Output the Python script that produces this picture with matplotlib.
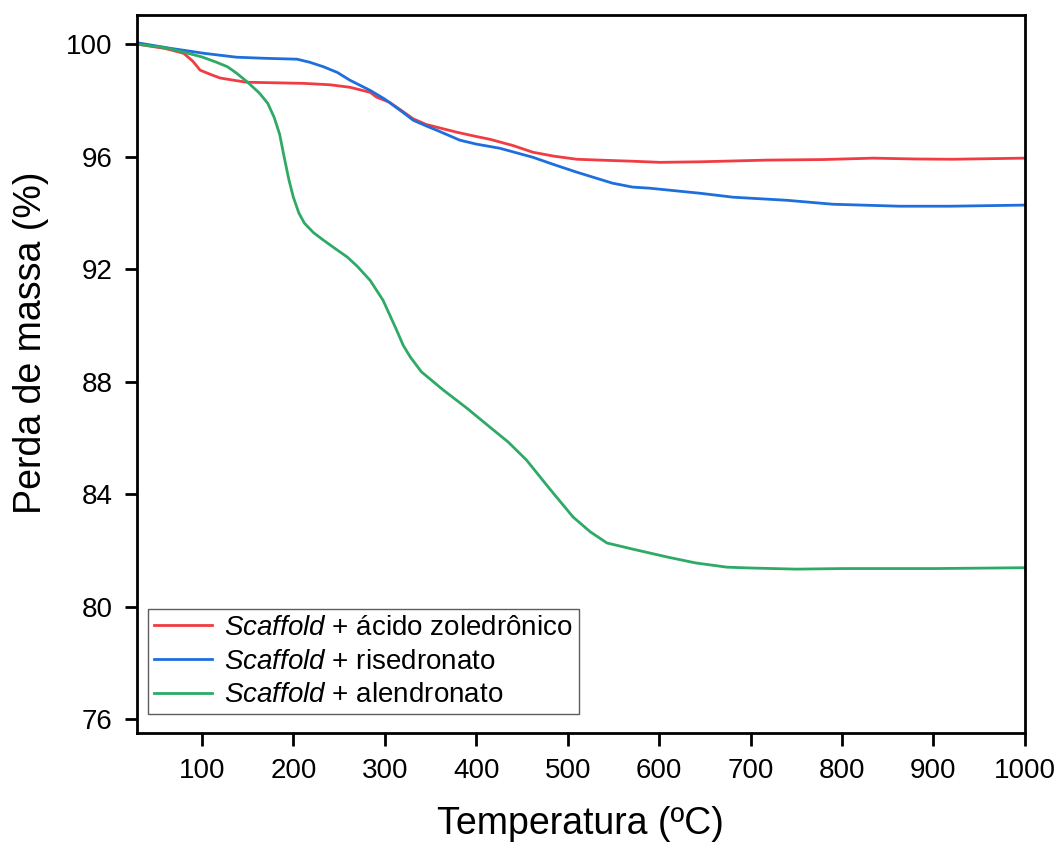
import matplotlib
matplotlib.use("Agg")
import matplotlib.pyplot as plt
import numpy as np

plt.rcParams['font.family'] = ['Liberation Sans', 'DejaVu Sans']
plt.rcParams['mathtext.fontset'] = 'custom'
plt.rcParams['mathtext.it'] = 'Liberation Sans:italic'
plt.rcParams['mathtext.rm'] = 'Liberation Sans'

# Data
temp_zol = [30, 60, 80, 90, 98, 110, 120, 135, 149, 180, 211, 240, 262, 284, 291, 305, 318, 331, 345, 357, 379, 400, 415, 440, 462, 485, 510, 535, 571, 601, 645, 718, 780, 834, 880, 921, 960, 1000]
mass_zol = [100.0, 99.85, 99.68, 99.4, 99.08, 98.92, 98.8, 98.72, 98.65, 98.63, 98.61, 98.56, 98.47, 98.29, 98.12, 97.94, 97.65, 97.35, 97.15, 97.05, 96.87, 96.72, 96.62, 96.4, 96.16, 96.02, 95.91, 95.88, 95.84, 95.80, 95.82, 95.88, 95.90, 95.95, 95.92, 95.91, 95.93, 95.95]

temp_ris = [30, 65, 102, 138, 170, 204, 218, 233, 248, 262, 284, 300, 321, 331, 345, 357, 382, 400, 426, 462, 485, 510, 535, 549, 571, 590, 645, 681, 740, 790, 863, 918, 960, 1000]
mass_ris = [100.05, 99.86, 99.68, 99.54, 99.5, 99.47, 99.36, 99.2, 99.0, 98.72, 98.36, 98.05, 97.55, 97.3, 97.1, 96.94, 96.59, 96.45, 96.3, 95.98, 95.72, 95.45, 95.2, 95.06, 94.92, 94.88, 94.70, 94.56, 94.45, 94.31, 94.24, 94.24, 94.26, 94.28]

temp_ale = [30, 60, 80, 100, 116, 128, 138, 150, 163, 172, 179, 185, 190, 195, 200, 206, 212, 222, 233, 245, 259, 270, 284, 298, 313, 320, 328, 340, 364, 390, 415, 435, 455, 480, 506, 525, 543, 570, 609, 640, 674, 700, 750, 800, 900, 1000]
mass_ale = [100.0, 99.88, 99.72, 99.55, 99.36, 99.2, 98.97, 98.65, 98.26, 97.9, 97.4, 96.8, 95.98, 95.2, 94.56, 94.0, 93.64, 93.3, 93.03, 92.75, 92.43, 92.1, 91.6, 90.9, 89.83, 89.3, 88.87, 88.35, 87.7, 87.05, 86.38, 85.85, 85.21, 84.2, 83.18, 82.65, 82.26, 82.05, 81.76, 81.55, 81.40, 81.37, 81.33, 81.35, 81.35, 81.38]

labels = [r'$\it{Scaffold}$ + ácido zoledrônico',
          r'$\it{Scaffold}$ + risedronato',
          r'$\it{Scaffold}$ + alendronato']
colors = ['#F03C42', '#1E6FDC', '#2EAA66']
yticks = [76, 80, 84, 88, 92, 96, 100]
xticks = [100, 200, 300, 400, 500, 600, 700, 800, 900, 1000]

fig = plt.figure(figsize=(10.62, 8.44), dpi=100)
ax = fig.add_axes([0.129, 0.1315, 0.836, 0.851])

series = [(temp_zol, mass_zol), (temp_ris, mass_ris), (temp_ale, mass_ale)]
for (t, m), lab, c in zip(series, labels, colors):
    ax.plot(t, m, color=c, lw=2.0, label=lab)

ax.set_xlim(29, 1000)
ax.set_ylim(75.5, 101.05)
ax.set_xticks(xticks)
ax.set_yticks(yticks)
ax.tick_params(axis='both', which='major', direction='out', length=9, width=2,
               labelsize=20, top=False, right=False)
ax.tick_params(axis='x', pad=9)
ax.tick_params(axis='y', pad=8.5)
for s in ax.spines.values():
    s.set_linewidth(2)

ax.set_xlabel('Temperatura (ºC)', fontsize=27, labelpad=16)
ax.set_ylabel('Perda de massa (%)', fontsize=27)
ax.yaxis.set_label_coords(-0.099, 0.543)

leg = ax.legend(loc='lower left', bbox_to_anchor=(0.0124, 0.0265), borderaxespad=0,
                fontsize=20, frameon=True, fancybox=False,
                edgecolor='#333333', handlelength=2.1, handletextpad=0.45,
                labelspacing=0.28, borderpad=0.2)
leg.get_frame().set_linewidth(1.0)

fig.savefig('out.png', dpi=100)
